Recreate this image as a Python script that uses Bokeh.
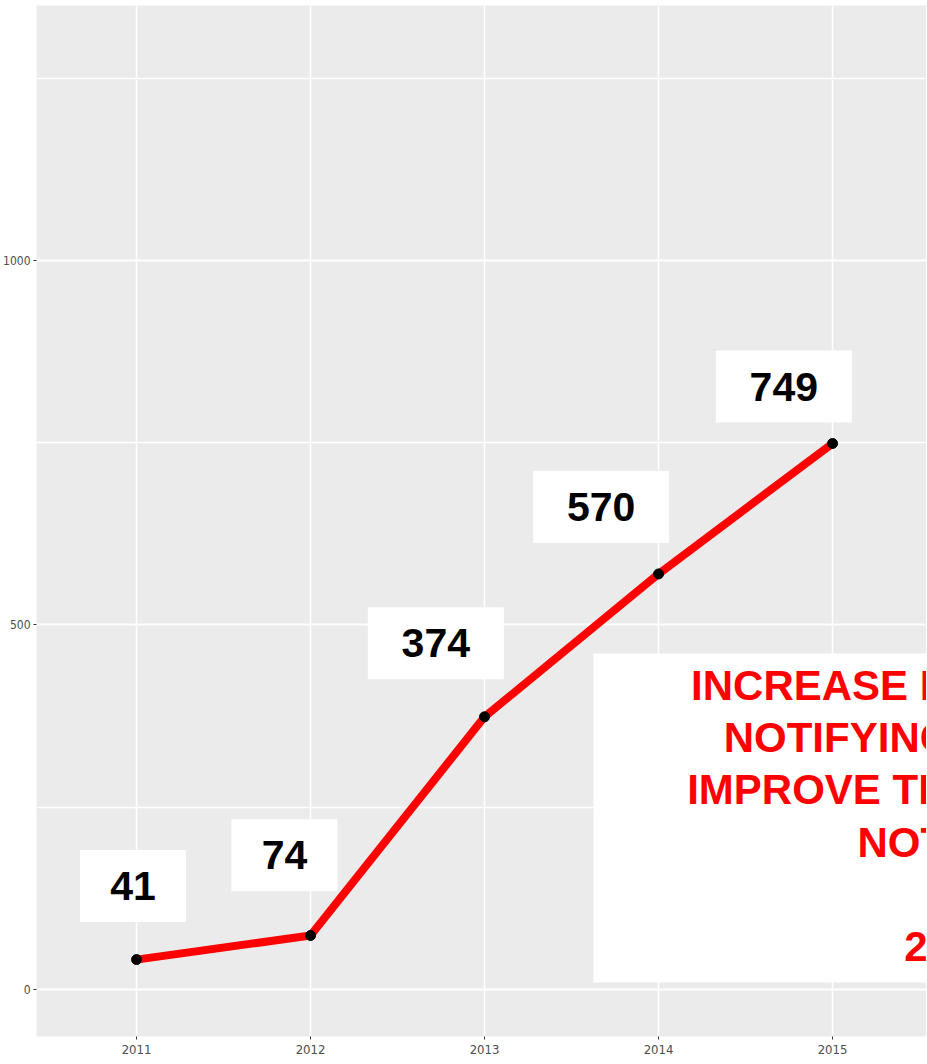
from bokeh.plotting import figure
from bokeh.models import Range1d, FixedTicker, SingleIntervalTicker, ColumnDataSource
from bokeh.core.properties import value
from bokeh.embed import file_html
from bokeh.resources import INLINE

# ---- data ----
years = [2011, 2012, 2013, 2014, 2015]
counts = [41, 74, 374, 570, 749]
year_ticks = [2011, 2012, 2013, 2014, 2015]
note_lines = ["INCREASE IN HOSPITALS", "NOTIFYING CASES TO",
              "IMPROVE TIMELINESS OF", "NOTICES", "", "2016"]

# label placement offsets (data units)
label_dx = [-0.02, -0.15, -0.28, -0.33, -0.28]
label_dy = [101, 110, 101, 92, 78]

labels = [str(c) for c in counts]
lx = [x + d for x, d in zip(years, label_dx)]
ly = [y + d for y, d in zip(counts, label_dy)]
bw = [46 + 30 * len(t) for t in labels]
src = ColumnDataSource(dict(x=lx, y=ly, t=labels, w=bw))

p = figure(frame_width=890, frame_height=1031,
           x_range=Range1d(2010.425, 2015.54), y_range=Range1d(-64.5, 1349.8),
           output_backend="svg", toolbar_location=None,
           min_border_left=33, min_border_right=0, min_border_top=5, min_border_bottom=28)
p.background_fill_color = "#EBEBEB"
p.border_fill_color = "white"
p.outline_line_color = None

p.xaxis.ticker = FixedTicker(ticks=year_ticks, minor_ticks=[])
p.yaxis.ticker = SingleIntervalTicker(interval=500, num_minor_ticks=2)
for ax in (p.xaxis, p.yaxis):
    ax.axis_line_color = None
    ax.major_tick_line_color = "#333333"
    ax.major_tick_out = 3
    ax.major_tick_in = 0
    ax.minor_tick_line_color = None
    ax.major_label_text_color = "#4D4D4D"
    ax.major_label_text_font = "DejaVu Sans Condensed"
    ax.major_label_standoff = 2
p.xaxis.major_label_text_font_size = "13px"
p.xaxis.major_label_standoff = 5
p.yaxis.major_label_text_font_size = "12px"

p.xgrid.grid_line_color = "white"
p.xgrid.grid_line_width = 1.5
p.ygrid.grid_line_color = "white"
p.ygrid.grid_line_width = 1.5
p.ygrid.minor_grid_line_color = "white"
p.ygrid.minor_grid_line_width = 1.5

p.line(years, counts, line_color="red", line_width=8)
p.scatter(years, counts, size=10, color="black")

p.rect(x="x", y="y", width="w", height=72, width_units="screen", height_units="screen",
       source=src, fill_color="white", line_color=None)
p.text(x="x", y="y", text="t", source=src, text_font=value("Liberation Sans"),
       text_font_style="bold", text_font_size=value("41px"), text_color="black",
       text_align="center", text_baseline="middle")

# annotation box
p.quad(left=[2013.626], right=[2016.5], bottom=[9.6], top=[461],
       fill_color="white", line_color=None)
p.text(x=[2015.680], y=[238], text=["\n".join(note_lines)], text_color="red",
       text_font=value("Liberation Sans"), text_font_style="bold",
       text_font_size=value("42px"), text_align="center", text_baseline="middle",
       text_line_height=1.114)

open("out.html", "w").write(file_html(p, INLINE))
